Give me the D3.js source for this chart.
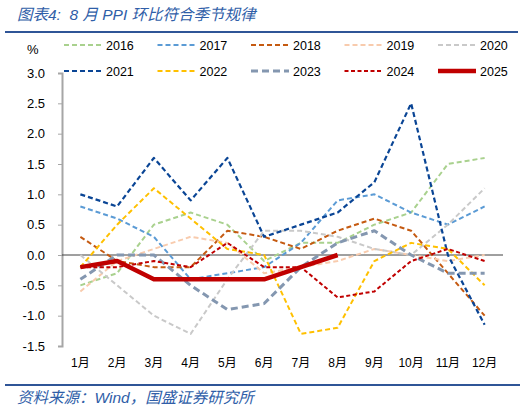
<!DOCTYPE html>
<html>
<head>
<meta charset="utf-8">
<script src="https://cdn.jsdelivr.net/npm/d3@7.9.0/dist/d3.min.js"></script>
<style>
  body { margin: 0; background: #fff; }
  svg { display: block; font-family: "Liberation Sans", Arial, "Noto Sans CJK SC", sans-serif; }
  .cn { font-family: "Liberation Sans", "Noto Sans CJK SC", sans-serif; }
</style>
</head>
<body>
<svg id="chart" width="525" height="410"></svg>
<script>
const months = ['1月', '2月', '3月', '4月', '5月', '6月', '7月', '8月', '9月', '10月', '11月', '12月'];
const yTicks = [-1.5, -1.0, -0.5, 0.0, 0.5, 1.0, 1.5, 2.0, 2.5, 3.0];

const v2016 = [-0.5, -0.3, 0.5, 0.7, 0.5, -0.1, 0.2, 0.2, 0.5, 0.7, 1.5, 1.6];
const v2017 = [0.8, 0.6, 0.3, -0.4, -0.3, -0.2, 0.2, 0.9, 1.0, 0.7, 0.5, 0.8];
const v2018 = [0.3, -0.1, -0.2, -0.2, 0.4, 0.3, 0.1, 0.4, 0.6, 0.4, -0.3, -1.0];
const v2019 = [-0.6, -0.1, 0.1, 0.3, 0.2, -0.3, -0.2, -0.1, 0.1, 0.0, -0.1, 0.0];
const v2020 = [0.0, -0.5, -1.0, -1.3, -0.4, 0.4, 0.4, 0.3, 0.1, 0.0, 0.5, 1.1];
const v2021 = [1.0, 0.8, 1.6, 0.9, 1.6, 0.3, 0.5, 0.7, 1.2, 2.5, 0.0, -1.15];
const v2022 = [-0.2, 0.5, 1.1, 0.6, 0.1, 0.0, -1.3, -1.2, -0.1, 0.2, 0.1, -0.5];
const v2023 = [-0.4, 0.0, 0.0, -0.5, -0.9, -0.8, -0.2, 0.2, 0.4, 0.0, -0.3, -0.3];
const v2024 = [-0.2, -0.2, -0.1, -0.2, 0.2, -0.2, -0.2, -0.7, -0.6, -0.1, 0.1, -0.1];
const v2025 = [-0.2, -0.1, -0.4, -0.4, -0.4, -0.4, -0.2, 0.0];

const series = [
  { name: '2016', values: v2016, color: '#a9d18e', width: 2, dash: '5,3' },
  { name: '2017', values: v2017, color: '#5b9bd5', width: 2, dash: '5,3' },
  { name: '2018', values: v2018, color: '#c55a11', width: 2, dash: '5,3' },
  { name: '2019', values: v2019, color: '#f8cbad', width: 2, dash: '5,3' },
  { name: '2020', values: v2020, color: '#c9c9c9', width: 2, dash: '5,3' },
  { name: '2021', values: v2021, color: '#0a4595', width: 2.2, dash: '5,3' },
  { name: '2022', values: v2022, color: '#ffc000', width: 2, dash: '5,3' },
  { name: '2023', values: v2023, color: '#8497b0', width: 3, dash: '7,4' },
  { name: '2024', values: v2024, color: '#c00000', width: 2, dash: '4,2.5' },
  { name: '2025', values: v2025, color: '#c00000', width: 4.5, dash: null }
];

const svg = d3.select('#chart');

// title + rules
svg.append('text')
  .attr('class', 'cn')
  .attr('x', 17).attr('y', 20)
  .attr('font-size', 15.5)
  .attr('font-style', 'italic')
  .attr('fill', '#2f5ea8')
  .attr('xml:space', 'preserve')
  .style('white-space', 'pre')
  .text('图表4:  8 月 PPI 环比符合季节规律');

svg.append('line')
  .attr('x1', 5).attr('x2', 518).attr('y1', 32).attr('y2', 32)
  .attr('stroke', '#2f5597').attr('stroke-width', 2);

svg.append('line')
  .attr('x1', 5).attr('x2', 520).attr('y1', 385).attr('y2', 385)
  .attr('stroke', '#2f5597').attr('stroke-width', 2);

svg.append('text')
  .attr('class', 'cn')
  .attr('x', 17).attr('y', 403)
  .attr('font-size', 15.5)
  .attr('font-style', 'italic')
  .attr('fill', '#2f5ea8')
  .text('资料来源：Wind，国盛证券研究所');

// scales
const x = d3.scalePoint().domain(months).range([62, 503]).padding(0.5);
const y = d3.scaleLinear().domain([-1.5, 3]).range([346, 73]);

// y axis
const yAxis = svg.append('g')
  .attr('transform', 'translate(62,0)')
  .call(d3.axisLeft(y).tickValues(yTicks).tickFormat(d3.format('.1f')).tickSizeOuter(0).tickSize(4).tickPadding(13));
yAxis.select('.domain').attr('stroke', '#a6a6a6').attr('stroke-width', 2);
yAxis.selectAll('.tick line').attr('stroke', '#a6a6a6');
yAxis.selectAll('.tick text')
  .attr('font-size', 13)
  .attr('fill', '#000')
  .text(d => d3.format('.1f')(d).replace('−', '-'));

// zero line
svg.append('line')
  .attr('x1', 62).attr('x2', 503).attr('y1', y(0)).attr('y2', y(0))
  .attr('stroke', '#404040').attr('stroke-width', 1);

// x labels
svg.append('g')
  .selectAll('text')
  .data(months)
  .join('text')
  .attr('class', 'cn')
  .attr('x', d => x(d))
  .attr('y', 367)
  .attr('text-anchor', 'middle')
  .attr('font-size', 12)
  .attr('fill', '#000')
  .text(d => d);

// "%" unit
svg.append('text')
  .attr('x', 27).attr('y', 54)
  .attr('font-size', 13)
  .attr('fill', '#000')
  .text('%');

// lines
const line = d3.line()
  .x((d, i) => x(months[i]))
  .y(d => y(d));

svg.append('g')
  .selectAll('path')
  .data(series)
  .join('path')
  .attr('d', d => line(d.values))
  .attr('fill', 'none')
  .attr('stroke', d => d.color)
  .attr('stroke-width', d => d.width)
  .attr('stroke-dasharray', d => d.dash)
  .attr('stroke-linejoin', 'round');

// legend
const legend = svg.append('g')
  .selectAll('g')
  .data(series)
  .join('g')
  .attr('transform', (d, i) => `translate(${64 + (i % 5) * 93.5},${i < 5 ? 45 : 71})`);

legend.append('line')
  .attr('x1', 0).attr('x2', 38)
  .attr('stroke', d => d.color)
  .attr('stroke-width', d => d.width)
  .attr('stroke-dasharray', d => d.dash);

legend.append('text')
  .attr('x', 42).attr('y', 4.5)
  .attr('font-size', 12.5)
  .attr('fill', '#000')
  .text(d => d.name);
</script>
</body>
</html>
